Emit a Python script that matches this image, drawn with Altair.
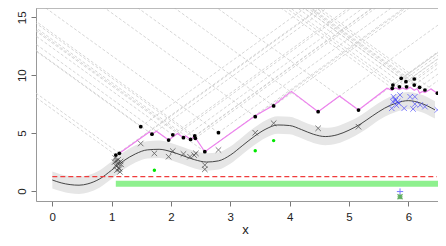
import altair as alt
import pandas as pd

W, H = 402, 193
XMIN, XMAX = -0.275, 6.50
YMIN, YMAX = -0.864, 15.80
SLOPE = 3.7  # cone slope

# smooth fit and its band
curve_x = [0.0, 0.15, 0.3, 0.45, 0.6, 0.8, 1.0, 1.2, 1.4, 1.6, 1.8, 2.0, 2.2, 2.4, 2.6, 2.8, 3.0,
           3.2, 3.4, 3.6, 3.8, 4.0, 4.2, 4.4, 4.6, 4.8, 5.0, 5.2, 5.4, 5.6, 5.8, 6.0, 6.2, 6.45]
curve_y = [0.95, 0.7, 0.55, 0.5, 0.62, 1.05, 1.8, 2.6, 3.2, 3.55, 3.6, 3.4, 3.05, 2.7, 2.5, 2.6, 3.1,
           3.9, 4.7, 5.35, 5.7, 5.65, 5.3, 4.9, 4.7, 4.85, 5.25, 5.8, 6.5, 7.15, 7.6, 7.8, 7.6, 7.0]
band_lo = [0.22, -0.03, -0.2, -0.25, -0.13, 0.3, 1.05, 1.85, 2.45, 2.8, 2.85, 2.65, 2.3, 1.95, 1.75, 1.85, 2.35,
           3.15, 3.95, 4.6, 4.95, 4.9, 4.55, 4.15, 3.95, 4.1, 4.5, 5.05, 5.75, 6.4, 6.85, 7.05, 6.85, 6.25]
band_hi = [1.68, 1.43, 1.3, 1.25, 1.37, 1.8, 2.55, 3.35, 3.95, 4.3, 4.35, 4.15, 3.8, 3.45, 3.25, 3.35, 3.85,
           4.65, 5.45, 6.1, 6.45, 6.4, 6.05, 5.65, 5.45, 5.6, 6.0, 6.55, 7.25, 7.9, 8.35, 8.55, 8.35, 7.75]

# black dots
dot_x = [1.07, 1.13, 1.49, 1.68, 1.96, 2.03, 2.21, 2.33, 2.40, 2.41, 2.57, 2.80, 3.42, 3.73, 4.48, 5.16,
         5.73, 5.74, 5.85, 5.88, 5.96, 5.97, 6.10, 6.10, 6.19, 6.28, 6.49]
dot_y = [3.1, 3.25, 5.55, 4.9, 4.4, 4.85, 4.6, 4.45, 4.75, 4.55, 3.39, 5.03, 6.42, 7.34, 6.85, 6.99,
         8.87, 9.15, 9.0, 9.73, 9.44, 9.0, 9.67, 9.15, 8.95, 8.72, 8.44]

# black crosses
cross_x = [1.06, 1.08, 1.10, 1.07, 1.12, 1.09, 1.14, 1.11, 1.16, 1.13, 1.05, 1.15,
           1.49, 1.72, 1.96, 2.03, 2.21, 2.32, 2.39, 2.42, 2.57, 2.57, 2.80, 3.42, 3.73, 4.48, 5.16]
cross_y = [2.85, 2.6, 2.4, 2.2, 2.0, 1.8, 1.65, 2.7, 2.3, 1.9, 2.5, 2.55,
           4.1, 3.25, 2.96, 3.45, 3.2, 2.96, 3.1, 3.25, 2.24, 1.87, 3.54, 5.03, 5.85, 5.41, 5.55]

# blue crosses
blue_x = [5.75, 5.78, 5.82, 5.86, 5.84, 5.74, 5.72, 6.03, 6.11, 5.93, 6.08, 6.11, 6.20, 6.28, 6.49, 5.80, 5.78]
blue_y = [8.14, 7.92, 7.71, 8.29, 7.57, 7.71, 7.14, 8.14, 8.14, 7.14, 7.08, 7.51, 7.43, 7.28, 7.0, 7.4, 7.8]

# green points
green_x = [1.72, 3.42, 3.73]
green_y = [1.8, 3.48, 4.35]

# magenta envelope vertices
mag_x = [1.13, 1.635, 1.68, 1.755, 1.96, 2.11, 2.21, 2.25, 2.33, 2.39, 2.41, 2.57, 3.42, 3.73, 4.03,
         4.48, 4.84, 5.16, 5.64, 5.72, 5.78, 5.85, 5.9, 5.97, 6.03, 6.10, 6.15, 6.19, 6.24, 6.28, 6.38, 6.49]
mag_y = [3.25, 5.1, 4.9, 5.15, 4.4, 4.96, 4.6, 4.75, 4.45, 4.7, 4.6, 3.39, 6.5, 7.4, 8.6,
         6.85, 8.2, 6.99, 8.87, 8.7, 8.9, 8.75, 8.9, 8.75, 8.95, 8.7, 8.85, 8.45, 8.6, 8.5, 8.8, 8.44]

red_x = [0.0, 6.48]
red_level = 1.24
bar_x = [1.07, 6.50]
bar_level = 0.62
blue_plus = (5.86, -0.05)
dkgreen_pt = (5.86, -0.5)

xs = alt.Scale(domain=[XMIN, XMAX], nice=False, zero=False)
ys = alt.Scale(domain=[YMIN, YMAX], nice=False, zero=False)
FONT = "Liberation Sans"

xaxis = alt.Axis(values=[0, 1, 2, 3, 4, 5, 6], title="x", grid=False, tickSize=5, tickColor="#777",
                 domainColor="#999", labelFont=FONT, labelFontSize=11.5, labelColor="#222",
                 labelBaseline="alphabetic", labelPadding=14, titleFont=FONT, titleFontSize=13,
                 titleFontWeight="normal", titleColor="#222", titleX=209, titleY=32,
                 titleBaseline="alphabetic", titleAlign="center", labelFlush=False)
yaxis = alt.Axis(values=[0, 5, 10, 15], title="", grid=False, tickSize=5, tickColor="#777",
                 domainColor="#999", labelFont=FONT, labelFontSize=11.5, labelColor="#222",
                 labelAngle=-90, labelAlign="center", labelBaseline="alphabetic", labelPadding=6,
                 labelFlush=False)

# cone lines from the dots
cone_rows = []
for i, (x0, y0) in enumerate(zip(dot_x, dot_y)):
    for side, d in (("l", -6.0), ("r", 6.0)):
        key = f"{i}{side}"
        cone_rows.append({"k": key, "o": 0, "x": x0, "y": y0})
        cone_rows.append({"k": key, "o": 1, "x": x0 + d, "y": y0 + SLOPE * abs(d)})
cones = pd.DataFrame(cone_rows)

base_enc = dict(x=alt.X("x:Q", scale=xs, axis=xaxis), y=alt.Y("y:Q", scale=ys, axis=yaxis))

cone_layer = alt.Chart(cones).mark_line(clip=True, stroke="#cccccc", strokeWidth=0.8,
                                        strokeDash=[3, 2]).encode(
    x=alt.X("x:Q", scale=xs, axis=xaxis), y=alt.Y("y:Q", scale=ys, axis=yaxis),
    detail="k:N", order="o:Q")

band_df = pd.DataFrame({"x": curve_x, "lo": band_lo, "hi": band_hi, "y": curve_y})
band = alt.Chart(band_df).mark_area(color="#e6e6e6", clip=True, interpolate="monotone").encode(
    x=alt.X("x:Q", scale=xs, axis=xaxis), y=alt.Y("lo:Q", scale=ys, axis=yaxis), y2="hi:Q")
curve = alt.Chart(band_df).mark_line(stroke="#333", strokeWidth=0.9, clip=True,
                                     interpolate="monotone").encode(**base_enc)

red_df = pd.DataFrame({"x": [red_x[0]], "x2": [red_x[1]], "y": [red_level]})
red = alt.Chart(red_df).mark_rule(stroke="#f03c3c", color="#f03c3c", strokeWidth=1.4,
                                  strokeDash=[5, 3]).encode(
    x=alt.X("x:Q", scale=xs, axis=xaxis), x2="x2:Q", y=alt.Y("y:Q", scale=ys, axis=yaxis))

bar_df = pd.DataFrame({"x": [bar_x[0]], "x2": [bar_x[1]], "y": [bar_level]})
bar = alt.Chart(bar_df).mark_rule(stroke="#8ef08e", color="#8ef08e", strokeWidth=6,
                                  strokeCap="butt").encode(
    x=alt.X("x:Q", scale=xs, axis=xaxis), x2="x2:Q", y=alt.Y("y:Q", scale=ys, axis=yaxis))

mag_df = pd.DataFrame({"x": mag_x, "y": mag_y})
mag = alt.Chart(mag_df).mark_line(stroke="#ee82ee", strokeWidth=1.2, clip=True).encode(**base_enc)

XPATH = "M-1,-1L1,1M-1,1L1,-1"
PPATH = "M0,-1L0,1M-1,0L1,0"

dots = alt.Chart(pd.DataFrame({"x": dot_x, "y": dot_y})).mark_circle(
    color="black", size=14, opacity=1, clip=True).encode(**base_enc)
crosses = alt.Chart(pd.DataFrame({"x": cross_x, "y": cross_y})).mark_point(
    shape=XPATH, size=30, color="#333", strokeWidth=0.9, filled=False, clip=True).encode(**base_enc)
blues = alt.Chart(pd.DataFrame({"x": blue_x, "y": blue_y})).mark_point(
    shape=XPATH, size=30, color="#3f3fff", strokeWidth=0.9, filled=False, clip=True).encode(**base_enc)
greens = alt.Chart(pd.DataFrame({"x": green_x, "y": green_y})).mark_circle(
    color="#00e600", size=12, opacity=1).encode(**base_enc)
bplus = alt.Chart(pd.DataFrame({"x": [blue_plus[0]], "y": [blue_plus[1]]})).mark_point(
    shape=PPATH, size=40, color="#3f3fff", strokeWidth=1, filled=False).encode(**base_enc)
gpt = alt.Chart(pd.DataFrame({"x": [dkgreen_pt[0]], "y": [dkgreen_pt[1]]})).mark_point(
    shape="M-1,-1L1,1M-1,1L1,-1M0,-1L0,1M-1,0L1,0", size=25, color="#1e8c1e", strokeWidth=1.2,
    filled=False).encode(**base_enc)

topline = alt.Chart(pd.DataFrame({"x": [0]})).mark_rule(color="#999", strokeWidth=1).encode(
    x=alt.value(0), x2=alt.value(W), y=alt.value(0))

chart = alt.layer(cone_layer, band, curve, red, bar, mag, dots, crosses, blues, greens, bplus, gpt,
                  topline).properties(
    width=W, height=H, autosize="none",
    padding={"left": 28, "top": 0, "right": 0, "bottom": 37}
).configure_view(stroke=None).configure(background="white")

chart.save("out.html", embed_options={"renderer": "svg", "actions": False})
